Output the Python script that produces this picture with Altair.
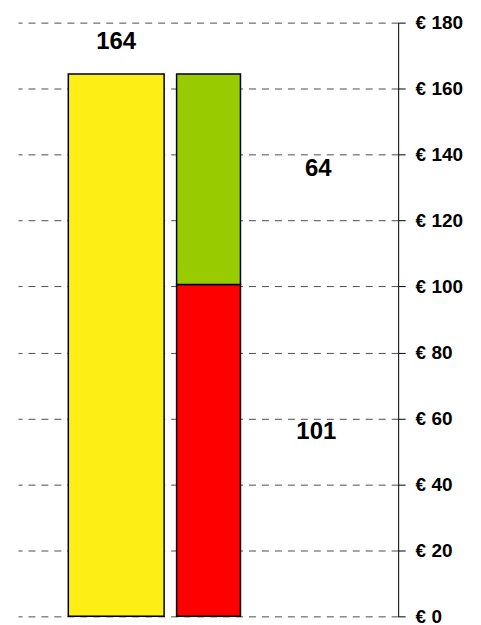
import altair as alt
import pandas as pd

# data
columns = ["Totaal", "Verdeling", "Verdeling"]
segments = ["Totaal", "Rood", "Groen"]
values = [164.4, 100.6, 63.8]
seg_colors = ["#FDEE16", "#FF0000", "#99CC00"]

label_cols = ["Totaal", "Verdeling", "Verdeling"]
label_texts = ["164", "101", "64"]

y_ticks = [0, 20, 40, 60, 80, 100, 120, 140, 160, 180]
col_order = ["Totaal", "Verdeling"]

FONT = "Liberation Sans"

df = pd.DataFrame({"col": columns, "seg": segments, "val": values})
df["slot"] = df["col"].map({c: i for i, c in enumerate(col_order)})
df["y0"] = df.groupby("col")["val"].cumsum() - df["val"]
df["y1"] = df["y0"] + df["val"]

lab = pd.DataFrame({"col": label_cols, "txt": label_texts})
lab["slot"] = lab["col"].map({c: i for i, c in enumerate(col_order)})
lab["y"] = [df.loc[0, "y1"],
            (df.loc[1, "y0"] + df.loc[1, "y1"]) / 2,
            (df.loc[2, "y0"] + df.loc[2, "y1"]) / 2]

xscale = alt.Scale(domain=[-1.01, 3.0], nice=False, zero=False)
yscale = alt.Scale(domain=[0, 180], nice=False)
cscale = alt.Scale(domain=segments, range=seg_colors)

yaxis = alt.Axis(orient="right", values=y_ticks, title=None,
                 labelExpr="'€ ' + datum.value",
                 labelFont=FONT, labelFontSize=19, labelFontWeight="bold",
                 labelColor="black", labelPadding=10,
                 domainColor="black", domainWidth=1,
                 tickColor="black", tickSize=7, tickWidth=1,
                 grid=True, gridColor="#4d4d4d", gridDash=[7, 6], gridWidth=1)

wide = alt.Chart(df[df["col"] == "Totaal"]).mark_bar(size=96, stroke="black", strokeWidth=1.5).encode(
    x=alt.X("slot:Q", scale=xscale, axis=None),
    y=alt.Y("y0:Q", scale=yscale, axis=yaxis), y2="y1:Q",
    color=alt.Color("seg:N", scale=cscale, legend=None),
)
narrow = alt.Chart(df[df["col"] == "Verdeling"]).mark_bar(size=64, stroke="black", strokeWidth=1.5).encode(
    x=alt.X("slot:Q", scale=xscale, axis=None),
    y=alt.Y("y0:Q", scale=yscale, axis=yaxis), y2="y1:Q",
    color=alt.Color("seg:N", scale=cscale, legend=None),
)

dys = [-32, -18, -10]
dxs = [0, 108, 110]
texts = []
for i in range(len(lab)):
    texts.append(
        alt.Chart(lab.iloc[[i]]).mark_text(font=FONT, fontSize=24, fontWeight="bold",
                                           color="black", dy=dys[i], dx=dxs[i]).encode(
            x=alt.X("slot:Q", scale=xscale, axis=None),
            y=alt.Y("y:Q", scale=yscale, axis=yaxis),
            text="txt:N",
        )
    )

chart = alt.layer(wide, narrow, *texts).properties(
    width=381, height=595,
    padding={"left": 10, "top": 14, "right": 75, "bottom": 12},
    autosize=alt.AutoSizeParams(type="none"),
).configure(background="white").configure_view(stroke="transparent", strokeWidth=0)

chart.save("out.html", embed_options={"renderer": "svg", "actions": False})
